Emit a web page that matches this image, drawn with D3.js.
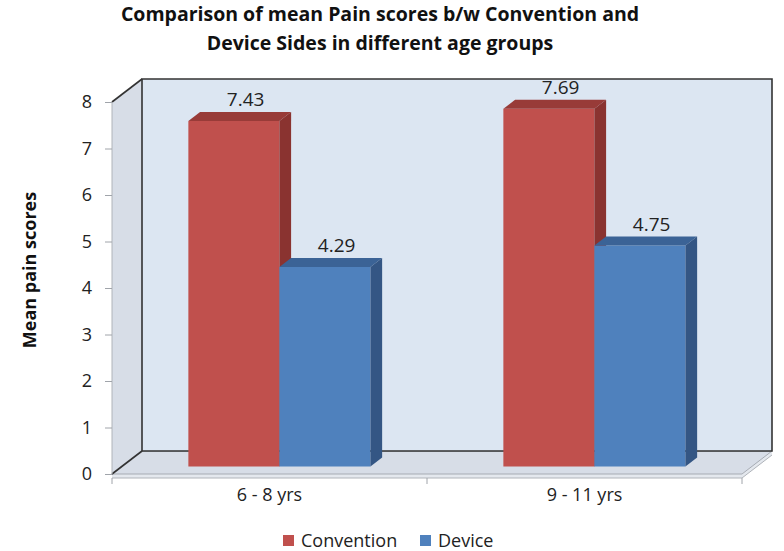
<!DOCTYPE html>
<html><head><meta charset="utf-8">
<script src="https://cdn.jsdelivr.net/npm/d3@7"></script>
<style>body{margin:0;background:#fff}svg{display:block}text{font-family:"Open Sans","DejaVu Sans",sans-serif}</style>
</head><body>
<svg id="c" width="784" height="551"></svg>
<script>
const categories = ["6 - 8 yrs", "9 - 11 yrs"];
const seriesNames = ["Convention", "Device"];
const convention = [7.43, 7.69];
const device = [4.29, 4.75];
const yTicks = [0,1,2,3,4,5,6,7,8];
const titleLines = ["Comparison of mean Pain scores b/w Convention and", "Device Sides in different age groups"];
const yTitle = "Mean pain scores";

const colors = {
  Convention: {front:"#c0504d", top:"#983b38", side:"#8a3330"},
  Device: {front:"#4f81bd", top:"#3b6396", side:"#345684"}
};
const values = {Convention: convention, Device: device};

const svg = d3.select("#c");
const x0 = 112, x1 = 742, yBase = 474, yTop = 102;
const D = [30, -23];  // depth vector
const y = d3.scaleLinear().domain([0,8]).range([yBase, yTop]);
const xc = d3.scaleBand().domain(categories).range([x0, x1]).padding(0);
const xs = d3.scaleBand().domain(seriesNames).range([0, xc.bandwidth()]).paddingInner(0).paddingOuter(0.73);

const pt = (x, yy, t) => [x + D[0]*t, yy + D[1]*t];
const poly = pts => pts.map(p => p.join(",")).join(" ");

// Left wall
svg.append("polygon").attr("points", poly([pt(x0,yBase,0), pt(x0,yTop,0), pt(x0,yTop,1), pt(x0,yBase,1)]))
  .attr("fill", "#d7dde7").attr("stroke", "none");
// Floor thickness strip
svg.append("polygon").attr("points", poly([pt(x0,yBase,0), pt(x1,yBase,0), pt(x1+D[0],yBase+D[1],0), pt(x1+D[0],yBase+D[1]+4,0), pt(x1,yBase+4,0), pt(x0,yBase+4,0)]))
  .attr("fill", "#e4e8ee");
// Floor
svg.append("polygon").attr("points", poly([pt(x0,yBase,0), pt(x1,yBase,0), pt(x1,yBase,1), pt(x0,yBase,1)]))
  .attr("fill", "#d7dde7").attr("stroke", "#a6abb3").attr("stroke-width", 1);
// Back wall
svg.append("polygon").attr("points", poly([pt(x0,yBase,1), pt(x0,yTop,1), pt(x1,yTop,1), pt(x1,yBase,1)]))
  .attr("fill", "#dce6f2").attr("stroke", "#333").attr("stroke-width", 1.6);
// Left wall edges
svg.append("line").attr("x1", x0).attr("y1", yTop).attr("x2", x0+D[0]).attr("y2", yTop+D[1]).attr("stroke","#333").attr("stroke-width",1.6);
svg.append("line").attr("x1", x0).attr("y1", yBase).attr("x2", x0+D[0]).attr("y2", yBase+D[1]).attr("stroke","#333").attr("stroke-width",1.6);
svg.append("line").attr("x1", x0).attr("y1", yBase).attr("x2", x0).attr("y2", yTop).attr("stroke","#b0b4ba").attr("stroke-width",1);
svg.append("line").attr("x1", x0).attr("y1", yBase+4).attr("x2", x1).attr("y2", yBase+4).attr("stroke","#b0b4ba").attr("stroke-width",1);
svg.append("line").attr("x1", x1).attr("y1", yBase+4).attr("x2", x1+D[0]).attr("y2", yBase+4+D[1]).attr("stroke","#b0b4ba").attr("stroke-width",1);

// Y axis
const yAxis = d3.axisLeft(y).tickValues(yTicks).tickSize(7).tickPadding(13).tickFormat(d3.format("d"));
const ga = svg.append("g").attr("transform", `translate(${x0},0)`).call(yAxis);
ga.select(".domain").remove();
ga.selectAll(".tick line").attr("stroke", "#a0a4aa");
ga.selectAll(".tick text").attr("font-size", 18).attr("fill", "#222").style("font-family", '"Open Sans",sans-serif');

// Category ticks at band boundaries
const bounds = categories.map(c => xc(c)).concat([xc(categories[categories.length-1]) + xc.bandwidth()]);
svg.selectAll(".ctick").data(bounds).enter().append("line")
  .attr("x1", d => d).attr("x2", d => d).attr("y1", yBase+4).attr("y2", yBase+10)
  .attr("stroke", "#a0a4aa");
svg.selectAll(".clab").data(categories).enter().append("text")
  .attr("x", d => xc(d) + xc.bandwidth()/2).attr("y", 501)
  .attr("text-anchor", "middle").attr("font-size", 18).attr("fill", "#222").text(d => d);

// Bars
const t0 = 0.33, t1 = 0.72;
categories.forEach((cat, i) => {
  seriesNames.forEach(s => {
    const v = values[s][i];
    const xl = xc(cat) + xs(s), xr = xl + xs.bandwidth();
    const yv = y(v);
    const col = colors[s];
    const g = svg.append("g");
    g.append("polygon").attr("points", poly([pt(xl,yBase,t0), pt(xr,yBase,t0), pt(xr,yv,t0), pt(xl,yv,t0)])).attr("fill", col.front);
    g.append("polygon").attr("points", poly([pt(xl,yv,t0), pt(xr,yv,t0), pt(xr,yv,t1), pt(xl,yv,t1)])).attr("fill", col.top);
    g.append("polygon").attr("points", poly([pt(xr,yBase,t0), pt(xr,yBase,t1), pt(xr,yv,t1), pt(xr,yv,t0)])).attr("fill", col.side);
    const lp = pt((xl+xr)/2, yv, t1);
    g.append("text").attr("x", lp[0]).attr("y", lp[1] - 6).attr("text-anchor", "middle")
      .attr("font-size", 19).attr("fill", "#222").text(v.toFixed(2));
  });
});

// Title
svg.selectAll(".title").data(titleLines).enter().append("text")
  .attr("x", 380).attr("y", (d,i) => 21 + i*29).attr("text-anchor", "middle")
  .attr("font-size", 19.5).attr("font-weight", "bold").attr("fill", "#111").text(d => d);

// Y title
svg.append("text").attr("transform", "translate(36,270) rotate(-90)").attr("text-anchor", "middle")
  .attr("font-size", 18).attr("font-weight", "bold").attr("fill", "#111").text(yTitle);

// Legend
const leg = svg.append("g");
const legX = [283, 420];
seriesNames.forEach((s, i) => {
  leg.append("rect").attr("x", legX[i]).attr("y", 535).attr("width", 11).attr("height", 11).attr("fill", colors[s].front);
  leg.append("text").attr("x", legX[i] + 18).attr("y", 547).attr("font-size", 18).attr("fill", "#222").text(s);
});
</script>
</body></html>
